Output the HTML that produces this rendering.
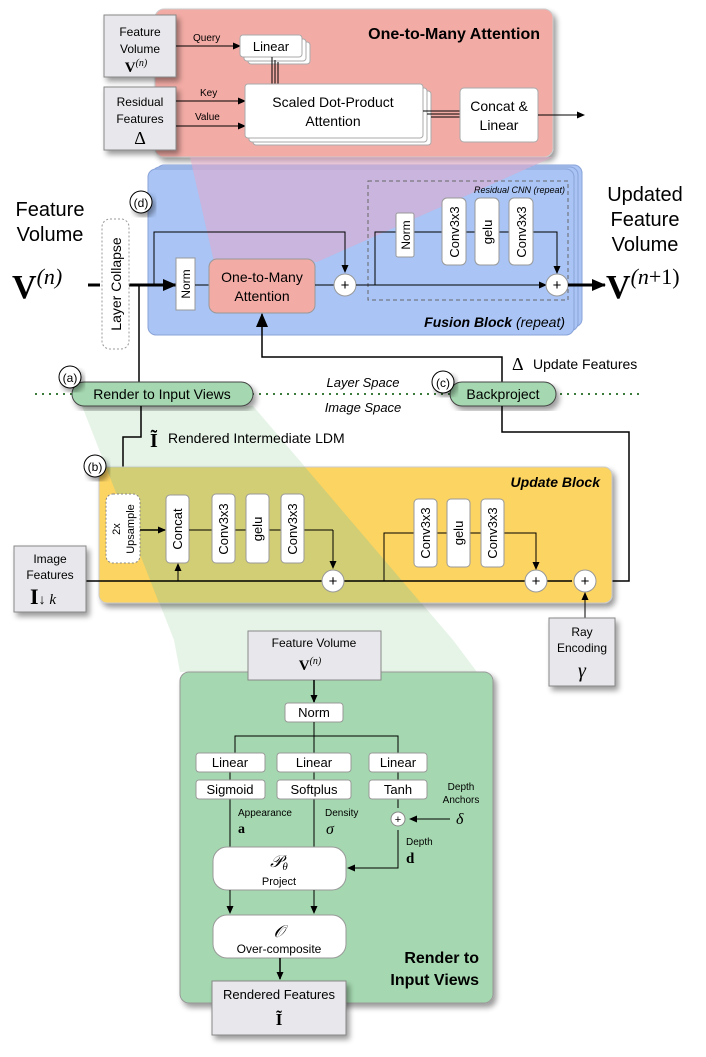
<!DOCTYPE html>
<html><head><meta charset="utf-8"><style>
body{margin:0;background:#fff}
svg text{font-family:"Liberation Sans",sans-serif}
.s{font-family:"Liberation Serif",serif}
</style></head><body>
<svg width="706" height="1052" viewBox="0 0 706 1052" xmlns="http://www.w3.org/2000/svg">
<defs>
<marker id="a" markerWidth="8" markerHeight="8" refX="7" refY="4" orient="auto" markerUnits="userSpaceOnUse"><path d="M0,0.5 L8,4 L0,7.5z" fill="#000"/></marker>
<marker id="b" markerWidth="14" markerHeight="14" refX="13" refY="7" orient="auto" markerUnits="userSpaceOnUse"><path d="M0,1 L14,7 L0,13z" fill="#000"/></marker>
<filter id="sh" x="-10%" y="-10%" width="130%" height="130%"><feGaussianBlur in="SourceAlpha" stdDeviation="3"/><feOffset dx="3" dy="4"/><feComponentTransfer><feFuncA type="linear" slope="0.4"/></feComponentTransfer><feMerge><feMergeNode/><feMergeNode in="SourceGraphic"/></feMerge></filter>
</defs>

<!-- Pink attention box -->
<rect x="155" y="9" width="398" height="148" rx="9" fill="#f3aba5" stroke="#ccc" filter="url(#sh)"/>
<text x="540" y="39" font-size="16" font-weight="bold" text-anchor="end">One-to-Many Attention</text>
<rect x="104" y="15" width="72" height="62" fill="#e8e8ec" stroke="#888" filter="url(#sh)"/>
<text x="140" y="36" font-size="12" text-anchor="middle">Feature</text>
<text x="140" y="53" font-size="12" text-anchor="middle">Volume</text>
<text x="136" y="72" font-size="15" text-anchor="middle" class="s" font-weight="bold">V<tspan font-size="10" dy="-6" font-style="italic" font-weight="normal">(n)</tspan></text>
<rect x="104" y="87" width="72" height="63" fill="#e8e8ec" stroke="#888" filter="url(#sh)"/>
<text x="140" y="106" font-size="12" text-anchor="middle">Residual</text>
<text x="140" y="123" font-size="12" text-anchor="middle">Features</text>
<text x="140" y="144" font-size="18" text-anchor="middle" class="s">Δ</text>
<line x1="176" y1="46" x2="240" y2="46" stroke="#000" marker-end="url(#a)"/>
<text x="193" y="41" font-size="10">Query</text>
<line x1="176" y1="101" x2="245" y2="101" stroke="#000" marker-end="url(#a)"/>
<text x="200" y="96" font-size="10">Key</text>
<line x1="176" y1="126" x2="245" y2="126" stroke="#000" marker-end="url(#a)"/>
<text x="195" y="120" font-size="10">Value</text>
<rect x="248" y="42" width="62" height="22" rx="3" fill="#fff" stroke="#aaa"/>
<rect x="244" y="39" width="62" height="22" rx="3" fill="#fff" stroke="#aaa"/>
<rect x="240" y="35" width="62" height="22" rx="3" fill="#fff" stroke="#aaa"/>
<text x="271" y="51" font-size="13" text-anchor="middle">Linear</text>
<line x1="272" y1="57" x2="272" y2="84" stroke="#000"/><line x1="275" y1="60" x2="275" y2="84" stroke="#000"/><line x1="278" y1="62" x2="278" y2="84" stroke="#000"/>
<rect x="253" y="91" width="178" height="54" rx="3" fill="#fff" stroke="#aaa"/>
<rect x="249" y="88" width="178" height="54" rx="3" fill="#fff" stroke="#aaa"/>
<rect x="245" y="84" width="178" height="54" rx="3" fill="#fff" stroke="#aaa"/>
<text x="333" y="107" font-size="14" text-anchor="middle">Scaled Dot-Product</text>
<text x="333" y="126" font-size="14" text-anchor="middle">Attention</text>
<line x1="423" y1="111" x2="460" y2="111" stroke="#000"/><line x1="427" y1="114" x2="460" y2="114" stroke="#000"/><line x1="431" y1="117" x2="460" y2="117" stroke="#000"/>
<rect x="460" y="88" width="78" height="54" rx="4" fill="#fff" stroke="#aaa"/>
<text x="499" y="111" font-size="14" text-anchor="middle">Concat &amp;</text>
<text x="499" y="130" font-size="14" text-anchor="middle">Linear</text>
<line x1="538" y1="115" x2="584" y2="115" stroke="#000" marker-end="url(#a)"/>

<!-- Fusion block -->
<rect x="156" y="165" width="426" height="162" rx="8" fill="#a9c4f5" stroke="#8aa3d8"/>
<rect x="152" y="167" width="426" height="164" rx="8" fill="#a9c4f5" stroke="#8aa3d8"/>
<rect x="148" y="169" width="426" height="166" rx="8" fill="#a9c4f5" stroke="#8aa3d8"/>
<polygon points="190,157 553,157 317,262 214,262" fill="#e4a9c8" opacity="0.55"/>
<rect x="368" y="181" width="200" height="119" fill="none" stroke="#666" stroke-dasharray="4,3"/>
<text x="565" y="193" font-size="9" font-style="italic" text-anchor="end">Residual CNN (repeat)</text>
<circle cx="141" cy="202" r="11" fill="#fff" stroke="#000" filter="url(#sh)"/>
<text x="141" y="207" font-size="12" text-anchor="middle">(d)</text>
<text x="50" y="216" font-size="20" text-anchor="middle">Feature</text>
<text x="50" y="241" font-size="20" text-anchor="middle">Volume</text>
<text x="12" y="298" font-size="34" class="s" font-weight="bold">V<tspan font-size="22" dy="-14" font-style="italic" font-weight="normal">(n)</tspan></text>
<line x1="88" y1="285" x2="100" y2="285" stroke="#000" stroke-width="3"/>
<line x1="128" y1="285" x2="176" y2="285" stroke="#000" stroke-width="3" marker-end="url(#b)"/>
<rect x="102" y="219" width="27" height="130" rx="8" fill="#fff" stroke="#999" stroke-dasharray="2,2"/>
<text transform="translate(121,284) rotate(-90)" font-size="14" text-anchor="middle">Layer Collapse</text>
<line x1="139" y1="285" x2="139" y2="382" stroke="#000" stroke-width="1.5"/>
<polyline points="154,285 154,232 345,232 345,272" fill="none" stroke="#000" marker-end="url(#a)"/>
<rect x="176" y="258" width="19" height="52" fill="#fff" stroke="#999"/>
<text transform="translate(190,284) rotate(-90)" font-size="12" text-anchor="middle">Norm</text>
<line x1="195" y1="285" x2="209" y2="285" stroke="#000"/>
<rect x="209" y="259" width="106" height="54" rx="8" fill="#f3aba5" stroke="#999"/>
<text x="262" y="282" font-size="14" text-anchor="middle">One-to-Many</text>
<text x="262" y="301" font-size="14" text-anchor="middle">Attention</text>
<line x1="315" y1="285" x2="334" y2="285" stroke="#000"/>
<circle cx="345" cy="285" r="11" fill="#fff" stroke="#999"/>
<text x="345" y="290" font-size="15" text-anchor="middle">+</text>
<line x1="356" y1="285" x2="546" y2="285" stroke="#000" marker-end="url(#a)"/>
<polyline points="375,285 375,232 557,232 557,273" fill="none" stroke="#000" marker-end="url(#a)"/>
<rect x="396" y="213" width="18" height="44" rx="2" fill="#fff" stroke="#999"/>
<text transform="translate(410,235) rotate(-90)" font-size="12" text-anchor="middle">Norm</text>
<rect x="442" y="198" width="24" height="67" rx="5" fill="#fff" stroke="#999"/>
<text transform="translate(459,232) rotate(-90)" font-size="13" text-anchor="middle">Conv3x3</text>
<rect x="475" y="198" width="24" height="67" rx="5" fill="#fff" stroke="#999"/>
<text transform="translate(492,232) rotate(-90)" font-size="13" text-anchor="middle">gelu</text>
<rect x="509" y="198" width="24" height="67" rx="5" fill="#fff" stroke="#999"/>
<text transform="translate(526,232) rotate(-90)" font-size="13" text-anchor="middle">Conv3x3</text>
<circle cx="557" cy="285" r="11" fill="#fff" stroke="#999"/>
<text x="557" y="290" font-size="15" text-anchor="middle">+</text>
<line x1="568" y1="285" x2="605" y2="285" stroke="#000" stroke-width="3" marker-end="url(#b)"/>
<text x="565" y="327" font-size="14" font-weight="bold" font-style="italic" text-anchor="end">Fusion Block <tspan font-weight="normal">(repeat)</tspan></text>
<text x="645" y="201" font-size="20" text-anchor="middle">Updated</text>
<text x="645" y="226" font-size="20" text-anchor="middle">Feature</text>
<text x="645" y="251" font-size="20" text-anchor="middle">Volume</text>
<text x="606" y="298" font-size="34" class="s" font-weight="bold">V<tspan font-size="22" dy="-14" font-weight="normal"><tspan font-style="italic">(n</tspan>+1)</tspan></text>

<!-- middle connectors -->
<polyline points="502,382 502,357 262,357 262,314" fill="none" stroke="#000" stroke-width="1.5" marker-end="url(#b)"/>
<text x="512" y="370" font-size="18" class="s">Δ</text>
<text x="533" y="369" font-size="14">Update Features</text>
<line x1="35" y1="394" x2="642" y2="394" stroke="#3a7a3a" stroke-width="2" stroke-dasharray="2,5"/>
<polygon points="82,406 253,406 453,640 174,640" fill="#c8e6c9" opacity="0.45"/>
<rect x="72" y="382" width="181" height="24" rx="12" fill="#a5d8b0" stroke="#444" filter="url(#sh)"/>
<text x="162" y="399" font-size="14" text-anchor="middle">Render to Input Views</text>
<circle cx="70" cy="377" r="11" fill="#fff" stroke="#000" filter="url(#sh)"/>
<text x="70" y="382" font-size="12" text-anchor="middle">(a)</text>
<text x="363" y="387" font-size="13" font-style="italic" text-anchor="middle">Layer Space</text>
<text x="363" y="412" font-size="13" font-style="italic" text-anchor="middle">Image Space</text>
<rect x="450" y="382" width="106" height="24" rx="12" fill="#a5d8b0" stroke="#444" filter="url(#sh)"/>
<text x="503" y="399" font-size="14" text-anchor="middle">Backproject</text>
<circle cx="443" cy="382" r="11" fill="#fff" stroke="#000" filter="url(#sh)"/>
<text x="443" y="387" font-size="12" text-anchor="middle">(c)</text>
<polyline points="502,406 502,432 629,432 629,581 594,581" fill="none" stroke="#000" stroke-width="1.5"/>
<polyline points="141,406 141,437 123,437 123,492" fill="none" stroke="#000" stroke-width="1.5" marker-end="url(#a)"/>
<text x="150" y="447" font-size="20" class="s" font-weight="bold">Ĩ</text>
<text x="168" y="443" font-size="14">Rendered Intermediate LDM</text>

<!-- Update block -->
<rect x="99" y="467" width="513" height="136" rx="8" fill="#fcd462" stroke="#ccc" filter="url(#sh)"/>
<polygon points="106,467 305,467 421,603 159,603" fill="#a8c888" opacity="0.5"/>
<text x="600" y="487" font-size="14" font-weight="bold" font-style="italic" text-anchor="end">Update Block</text>
<circle cx="95" cy="466" r="11" fill="#fff" stroke="#000" filter="url(#sh)"/>
<text x="95" y="471" font-size="12" text-anchor="middle">(b)</text>
<rect x="106" y="494" width="34" height="69" rx="7" fill="#fff" stroke="#888" stroke-dasharray="2,2"/>
<text transform="translate(120,529) rotate(-90)" font-size="11" text-anchor="middle">2x</text>
<text transform="translate(134,529) rotate(-90)" font-size="11" text-anchor="middle">Upsample</text>
<line x1="140" y1="530" x2="165" y2="530" stroke="#000" stroke-width="1.5" marker-end="url(#a)"/>
<rect x="166" y="495" width="23" height="68" rx="4" fill="#fff" stroke="#999"/>
<text transform="translate(182,529) rotate(-90)" font-size="13" text-anchor="middle">Concat</text>
<line x1="189" y1="530" x2="333" y2="530" stroke="#000"/>
<rect x="212" y="494" width="23" height="69" rx="4" fill="#fff" stroke="#999"/>
<text transform="translate(228,529) rotate(-90)" font-size="13" text-anchor="middle">Conv3x3</text>
<rect x="246" y="494" width="23" height="69" rx="4" fill="#fff" stroke="#999"/>
<text transform="translate(262,529) rotate(-90)" font-size="13" text-anchor="middle">gelu</text>
<rect x="281" y="494" width="23" height="69" rx="4" fill="#fff" stroke="#999"/>
<text transform="translate(297,529) rotate(-90)" font-size="13" text-anchor="middle">Conv3x3</text>
<line x1="333" y1="530" x2="333" y2="568" stroke="#000" marker-end="url(#a)"/>
<line x1="86" y1="581" x2="572" y2="581" stroke="#000" stroke-width="1.5"/>
<line x1="178" y1="581" x2="178" y2="564" stroke="#000" marker-end="url(#a)"/>
<polyline points="384,581 384,533 536,533 536,569" fill="none" stroke="#000" marker-end="url(#a)"/>
<rect x="414" y="499" width="23" height="68" rx="4" fill="#fff" stroke="#999"/>
<text transform="translate(430,533) rotate(-90)" font-size="13" text-anchor="middle">Conv3x3</text>
<rect x="447" y="499" width="23" height="68" rx="4" fill="#fff" stroke="#999"/>
<text transform="translate(463,533) rotate(-90)" font-size="13" text-anchor="middle">gelu</text>
<rect x="481" y="499" width="23" height="68" rx="4" fill="#fff" stroke="#999"/>
<text transform="translate(497,533) rotate(-90)" font-size="13" text-anchor="middle">Conv3x3</text>
<circle cx="333" cy="581" r="11" fill="#fff" stroke="#999"/><text x="333" y="586" font-size="15" text-anchor="middle">+</text>
<circle cx="536" cy="581" r="11" fill="#fff" stroke="#999"/><text x="536" y="586" font-size="15" text-anchor="middle">+</text>
<circle cx="585" cy="581" r="11" fill="#fff" stroke="#999"/><text x="585" y="586" font-size="15" text-anchor="middle">+</text>
<rect x="14" y="546" width="72" height="66" fill="#e8e8ec" stroke="#888" filter="url(#sh)"/>
<text x="50" y="563" font-size="12" text-anchor="middle">Image</text>
<text x="50" y="579" font-size="12" text-anchor="middle">Features</text>
<text x="30" y="604" font-size="22" class="s" font-weight="bold">I<tspan font-size="14" font-weight="normal">↓</tspan><tspan font-size="15" font-style="italic" font-weight="normal"> k</tspan></text>
<line x1="585" y1="618" x2="585" y2="593" stroke="#000" marker-end="url(#a)"/>
<rect x="549" y="618" width="66" height="68" fill="#e8e8ec" stroke="#888" filter="url(#sh)"/>
<text x="582" y="636" font-size="12" text-anchor="middle">Ray</text>
<text x="582" y="652" font-size="12" text-anchor="middle">Encoding</text>
<text x="582" y="677" font-size="20" font-style="italic" text-anchor="middle" class="s">γ</text>

<!-- Render block -->
<polygon points="174,640 453,640 477,672 180,672" fill="#c8e6c9" opacity="0.45"/>
<rect x="180" y="672" width="313" height="331" rx="9" fill="#a5d8b0" stroke="#999" filter="url(#sh)"/>
<rect x="248" y="631" width="133" height="49" fill="#e8e8ec" stroke="#888"/>
<text x="314" y="647" font-size="12" text-anchor="middle">Feature Volume</text>
<text x="310" y="670" font-size="15" text-anchor="middle" class="s" font-weight="bold">V<tspan font-size="10" dy="-6" font-style="italic" font-weight="normal">(n)</tspan></text>
<line x1="314" y1="680" x2="314" y2="702" stroke="#000" stroke-width="1.5" marker-end="url(#a)"/>
<rect x="285" y="703" width="58" height="19" rx="3" fill="#fff" stroke="#999"/>
<text x="314" y="717" font-size="13" text-anchor="middle">Norm</text>
<polyline points="235,753 235,736 398,736 398,753" fill="none" stroke="#000"/>
<line x1="314" y1="722" x2="314" y2="753" stroke="#000"/>
<line x1="230" y1="772" x2="230" y2="847" stroke="#000"/>
<line x1="314" y1="772" x2="314" y2="847" stroke="#000"/>
<line x1="398" y1="772" x2="398" y2="808" stroke="#000"/>
<polyline points="398,830 398,868 348,868" fill="none" stroke="#000" marker-end="url(#a)"/>
<rect x="196" y="753" width="69" height="19" rx="3" fill="#fff" stroke="#999"/><text x="230" y="767" font-size="13" text-anchor="middle">Linear</text>
<rect x="277" y="753" width="74" height="19" rx="3" fill="#fff" stroke="#999"/><text x="314" y="767" font-size="13" text-anchor="middle">Linear</text>
<rect x="369" y="753" width="58" height="19" rx="3" fill="#fff" stroke="#999"/><text x="398" y="767" font-size="13" text-anchor="middle">Linear</text>
<rect x="196" y="780" width="69" height="19" rx="3" fill="#fff" stroke="#999"/><text x="230" y="794" font-size="13" text-anchor="middle">Sigmoid</text>
<rect x="277" y="780" width="74" height="19" rx="3" fill="#fff" stroke="#999"/><text x="314" y="794" font-size="13" text-anchor="middle">Softplus</text>
<rect x="369" y="780" width="58" height="19" rx="3" fill="#fff" stroke="#999"/><text x="398" y="794" font-size="13" text-anchor="middle">Tanh</text>
<text x="238" y="816" font-size="10">Appearance</text>
<text x="238" y="833" font-size="14" class="s" font-weight="bold">a</text>
<text x="325" y="816" font-size="10">Density</text>
<text x="326" y="834" font-size="16" class="s" font-style="italic">σ</text>
<text x="461" y="790" font-size="10" text-anchor="middle">Depth</text>
<text x="461" y="803" font-size="10" text-anchor="middle">Anchors</text>
<text x="456" y="824" font-size="16" class="s" font-style="italic">δ</text>
<line x1="450" y1="819" x2="410" y2="819" stroke="#000" marker-end="url(#a)"/>
<circle cx="398" cy="819" r="7" fill="#fff" stroke="#888"/><text x="398" y="823" font-size="11" text-anchor="middle">+</text>
<text x="406" y="845" font-size="10">Depth</text>
<text x="406" y="863" font-size="15" class="s" font-weight="bold">d</text>
<rect x="213" y="847" width="133" height="43" rx="14" fill="#fff" stroke="#999"/>
<text x="279" y="867" font-size="17" text-anchor="middle" class="s" font-style="italic">𝒫<tspan font-size="11" dy="3">θ</tspan></text>
<text x="279" y="885" font-size="11" text-anchor="middle">Project</text>
<line x1="230" y1="890" x2="230" y2="913" stroke="#000" marker-end="url(#a)"/>
<line x1="314" y1="890" x2="314" y2="913" stroke="#000" marker-end="url(#a)"/>
<rect x="213" y="915" width="133" height="43" rx="14" fill="#fff" stroke="#999"/>
<text x="279" y="937" font-size="17" text-anchor="middle" class="s" font-style="italic">𝒪</text>
<text x="279" y="953" font-size="12" text-anchor="middle">Over-composite</text>
<line x1="280" y1="958" x2="280" y2="979" stroke="#000" stroke-width="1.5" marker-end="url(#a)"/>
<text x="479" y="963" font-size="16" font-weight="bold" text-anchor="end">Render to</text>
<text x="479" y="985" font-size="16" font-weight="bold" text-anchor="end">Input Views</text>
<rect x="212" y="981" width="134" height="54" fill="#e8e8ec" stroke="#888" filter="url(#sh)"/>
<text x="279" y="999" font-size="13" text-anchor="middle">Rendered Features</text>
<text x="279" y="1025" font-size="17" text-anchor="middle" class="s" font-weight="bold">Ĩ</text>
</svg>
</body></html>
